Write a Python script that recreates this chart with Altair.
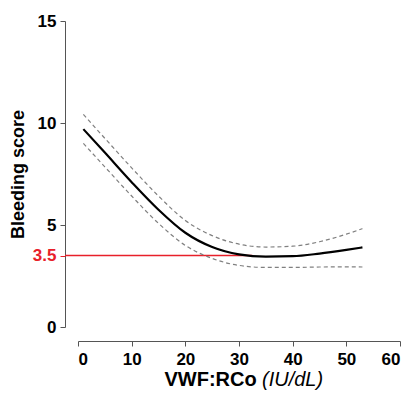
import altair as alt
import pandas as pd

# Data
vwf = [1, 5, 10, 15, 20, 25, 30, 35, 40, 45, 50, 53]
score = [9.70, 8.55, 7.10, 5.75, 4.62, 3.92, 3.56, 3.45, 3.47, 3.60, 3.78, 3.90]
upper = [10.42, 9.25, 7.80, 6.42, 5.22, 4.48, 4.06, 3.92, 3.96, 4.18, 4.55, 4.82]
lower = [9.00, 7.85, 6.42, 5.08, 4.00, 3.36, 3.02, 2.92, 2.92, 2.94, 2.95, 2.94]
y_ticks = [0, 3.5, 5, 10, 15]
x_ticks = [0, 10, 20, 30, 40, 50, 60]
threshold = 3.5
threshold_x_end = 32.5

FONT = "Liberation Sans"
RED = "#e8202a"
AXIS_GRAY = "#555555"

main_df = pd.DataFrame({"x": vwf, "y": score})
band_df = pd.DataFrame({
    "x": vwf + vwf,
    "y": upper + lower,
    "band": ["upper"] * len(vwf) + ["lower"] * len(vwf),
})
thr_df = pd.DataFrame({"y": [threshold], "xend": [threshold_x_end]})

x_scale = alt.Scale(domain=[0, 60], nice=False, zero=False)
y_scale = alt.Scale(domain=[0, 15], nice=False)

x_axis = alt.Axis(
    values=x_ticks, title=None, offset=14, tickSize=5, grid=False,
    labelFont=FONT, labelFontSize=17, labelFontWeight="bold", labelColor="black",
    labelPadding=5, domainColor=AXIS_GRAY, tickColor=AXIS_GRAY,
)
y_axis = alt.Axis(
    values=y_ticks, title="Bleeding score", offset=13, tickSize=5, grid=False,
    format="~g",
    labelFont=FONT, labelFontSize=17, labelFontWeight="bold",
    labelColor={"expr": f"datum.value == 3.5 ? '{RED}' : 'black'"},
    tickColor={"expr": f"datum.value == 3.5 ? '{RED}' : '{AXIS_GRAY}'"},
    labelPadding=4, domainColor=AXIS_GRAY,
    titleFont=FONT, titleFontSize=18, titleFontWeight="bold", titleColor="black",
    titlePadding=5,
)

rule = alt.Chart(thr_df).mark_rule(color=RED, strokeWidth=1.5).encode(
    y=alt.Y("y:Q", scale=y_scale, axis=y_axis),
    x=alt.X("xend:Q", scale=x_scale, axis=x_axis),
    x2=alt.value(-13),
)

bands = alt.Chart(band_df).mark_line(
    color="#808080", strokeWidth=1.2, strokeDash=[4, 3], interpolate="monotone"
).encode(
    x=alt.X("x:Q", scale=x_scale),
    y=alt.Y("y:Q", scale=y_scale),
    detail="band:N",
)

main = alt.Chart(main_df).mark_line(
    color="black", strokeWidth=2.2, interpolate="monotone"
).encode(
    x=alt.X("x:Q", scale=x_scale),
    y=alt.Y("y:Q", scale=y_scale),
)

title_df = pd.DataFrame({"a": ["VWF:RCo"], "b": ["(IU/dL)"]})
title_bold = alt.Chart(title_df).mark_text(
    font=FONT, fontSize=20, fontWeight="bold", align="right", baseline="alphabetic", color="black"
).encode(text="a:N", x=alt.value(178.7), y=alt.value(365))
title_ital = alt.Chart(title_df).mark_text(
    font=FONT, fontSize=20, fontStyle="italic", align="left", baseline="alphabetic", color="black"
).encode(text="b:N", x=alt.value(184), y=alt.value(365))

chart = alt.layer(rule, bands, main, title_bold, title_ital).properties(
    width=322,
    height=306,
    autosize=alt.AutoSizeParams(type="none"),
    padding={"left": 70, "top": 13, "right": 9, "bottom": 63},
).configure_view(stroke=None)

chart.save("out.html", embed_options={"renderer": "svg", "actions": False})
